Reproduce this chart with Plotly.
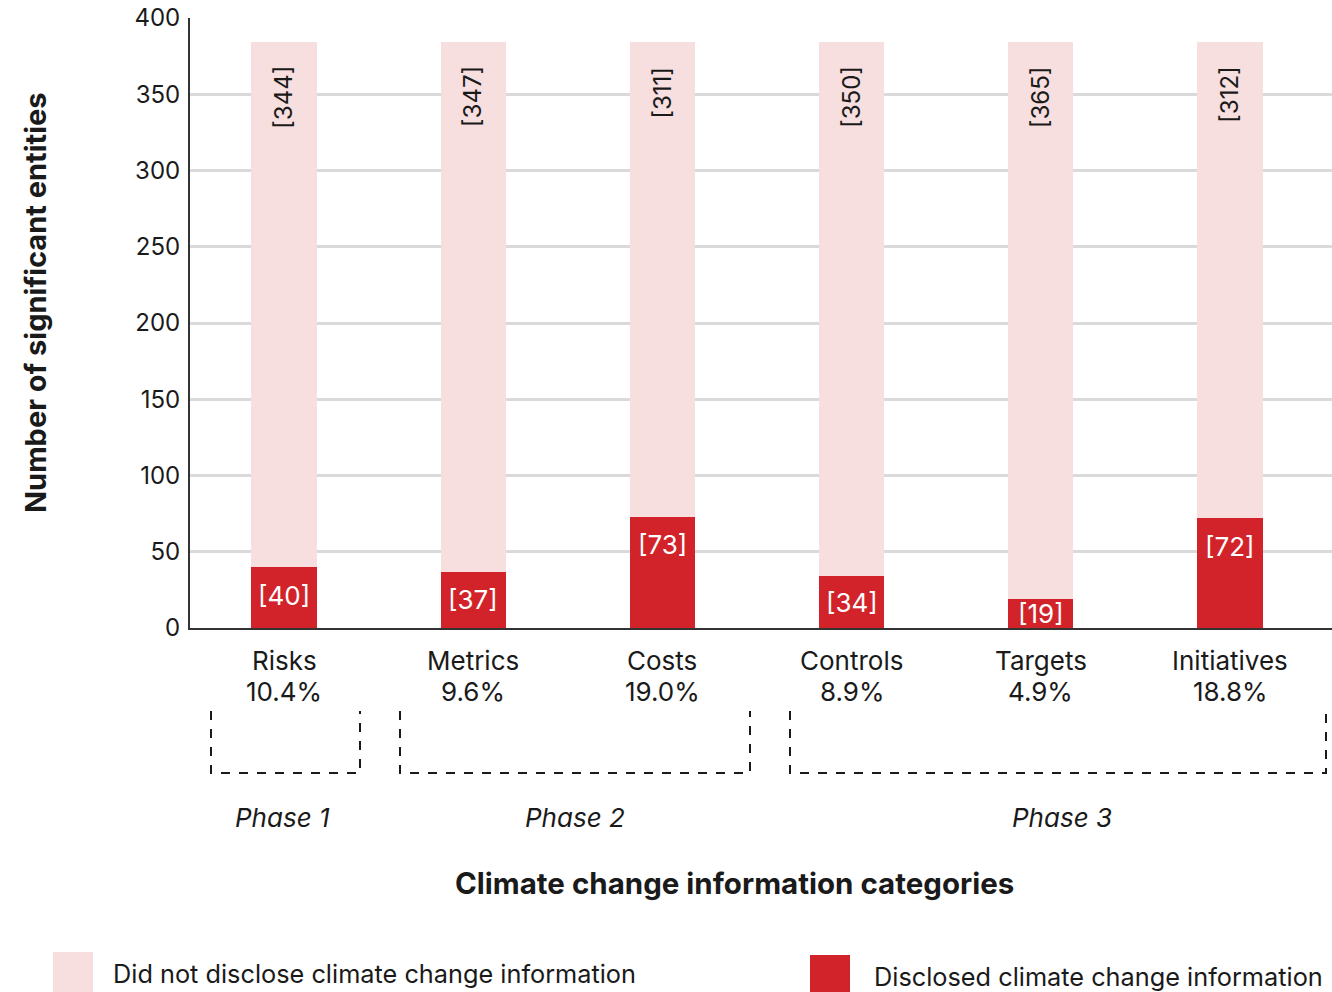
import plotly.graph_objects as go

# Disclosure counts per climate change information category
categories = ["Risks", "Metrics", "Costs", "Controls", "Targets", "Initiatives"]
disclosed = [40, 37, 73, 34, 19, 72]
not_disclosed = [344, 347, 311, 350, 365, 312]
disclosed_pct = ["10.4%", "9.6%", "19.0%", "8.9%", "4.9%", "18.8%"]

# Reporting phases: (label, first category index, last category index)
phases = [("Phase 1", 0, 0), ("Phase 2", 1, 2), ("Phase 3", 3, 5)]

y_ticks = [0, 50, 100, 150, 200, 250, 300, 350, 400]

RED = "#D2232A"
PINK = "#F7DEDF"
TEXT = "#1a1a1a"
FONT = "Inter"

W, H = 1332, 992
M_L, M_R, M_T, M_B = 190, 0, 18, 364
PLOT_W = W - M_L - M_R
PLOT_H = H - M_T - M_B
X_RANGE = [-0.497, 5.539]

# Bracket geometry (page pixels): left edge, right edge, label centre
BRACKETS = [(211, 360, 282), (400, 750, 575), (790, 1326, 1062)]
BRACKET_TOP, BRACKET_BOTTOM, PHASE_LABEL_Y = 711, 773, 817
NAME_Y, PCT_Y = 660, 691


def py(pixel_y):
    """Page pixel y -> paper coordinate."""
    return (H - M_B - pixel_y) / PLOT_H


def px(pixel_x):
    """Page pixel x -> paper coordinate."""
    return (pixel_x - M_L) / PLOT_W


def dx(pixel_x):
    """Page pixel x -> x-axis data coordinate."""
    return X_RANGE[0] + (pixel_x - M_L) / PLOT_W * (X_RANGE[1] - X_RANGE[0])


fig = go.Figure()

fig.add_trace(go.Bar(
    x=list(range(len(categories))), y=disclosed,
    name="Disclosed climate change information",
    marker=dict(color=RED, line=dict(width=0)), width=0.345,
    showlegend=False,
))
fig.add_trace(go.Bar(
    x=list(range(len(categories))), y=not_disclosed,
    name="Did not disclose climate change information",
    marker=dict(color=PINK, line=dict(width=0)), width=0.345,
    showlegend=False,
))

annotations = []

# Counts in the red segments, sitting near the top of each segment
for i, d in enumerate(disclosed):
    seg_px = d * PLOT_H / 400
    annotations.append(dict(
        x=i, y=d, xref="x", yref="y", text=f"[{d}]", showarrow=False,
        yanchor="middle", yshift=-min(28, seg_px / 2),
        font=dict(family=FONT, size=26, color="white"),
    ))

# Rotated counts near the top of the pink segments
for i, (d, n) in enumerate(zip(disclosed, not_disclosed)):
    annotations.append(dict(
        x=i, y=d + n, xref="x", yref="y", text=f"[{n}]", textangle=-90,
        showarrow=False, yanchor="top", yshift=-22,
        font=dict(family=FONT, size=24, color=TEXT),
    ))

# Category names and disclosure percentages below the axis
for i, (cat, pct) in enumerate(zip(categories, disclosed_pct)):
    for txt, ypix in ((cat, NAME_Y), (pct, PCT_Y)):
        annotations.append(dict(
            x=i, y=py(ypix), xref="x", yref="paper", text=txt,
            showarrow=False, xanchor="center", yanchor="middle",
            font=dict(family=FONT, size=26, color=TEXT),
        ))

# Phase brackets
shapes = []
for (label, a, b), (left, right, mid) in zip(phases, BRACKETS):
    x0, x1 = dx(left), dx(right)
    shapes.append(dict(
        type="path", xref="x", yref="paper",
        path=(f"M {x0},{py(BRACKET_TOP)} L {x0},{py(BRACKET_BOTTOM)} "
              f"L {x1},{py(BRACKET_BOTTOM)} L {x1},{py(BRACKET_TOP)}"),
        line=dict(color=TEXT, width=2, dash="dash"),
    ))
    annotations.append(dict(
        x=dx(mid), y=py(PHASE_LABEL_Y), xref="x", yref="paper",
        text=f"<i>{label}</i>", showarrow=False,
        xanchor="center", yanchor="middle",
        font=dict(family=FONT, size=26, color=TEXT),
    ))

# Axis titles
annotations.append(dict(
    x=px(734), y=py(883), xref="paper", yref="paper",
    xanchor="center", yanchor="middle",
    text="<b>Climate change information categories</b>", showarrow=False,
    font=dict(family=FONT, size=29.5, color=TEXT),
))
annotations.append(dict(
    x=px(35), y=py(303), xref="paper", yref="paper", textangle=-90,
    xanchor="center", yanchor="middle",
    text="<b>Number of significant entities</b>", showarrow=False,
    font=dict(family=FONT, size=29, color=TEXT),
))

# Legend swatches and labels
legend_items = [
    (PINK, "Did not disclose climate change information", 53, 952, 111, 973),
    (RED, "Disclosed climate change information", 810, 955, 872, 976),
]
for color, label, sx, sy, tx, ty in legend_items:
    shapes.append(dict(
        type="rect", xref="paper", yref="paper",
        x0=px(sx), x1=px(sx + 40), y0=py(sy), y1=py(sy + 42),
        fillcolor=color, line=dict(width=0),
    ))
    annotations.append(dict(
        x=px(tx), y=py(ty), xref="paper", yref="paper", text=label,
        showarrow=False, xanchor="left", yanchor="middle",
        font=dict(family=FONT, size=25.3, color=TEXT),
    ))

fig.update_layout(
    width=W, height=H, barmode="stack",
    margin=dict(l=M_L, r=M_R, t=M_T, b=M_B),
    paper_bgcolor="white", plot_bgcolor="white",
    font=dict(family=FONT, size=24, color=TEXT),
    shapes=shapes, annotations=annotations,
    xaxis=dict(
        showticklabels=False, showgrid=False, range=X_RANGE,
        showline=True, linecolor="#333333", linewidth=2, ticks="",
    ),
    yaxis=dict(
        range=[0, 400], tickvals=y_ticks, showgrid=True, gridcolor="#DADADA",
        gridwidth=3, zeroline=False, showline=True, linecolor="#333333",
        linewidth=2, ticks="", ticklabelstandoff=3,
        tickfont=dict(family=FONT, size=24, color=TEXT),
    ),
)

fig.write_html("out.html")
